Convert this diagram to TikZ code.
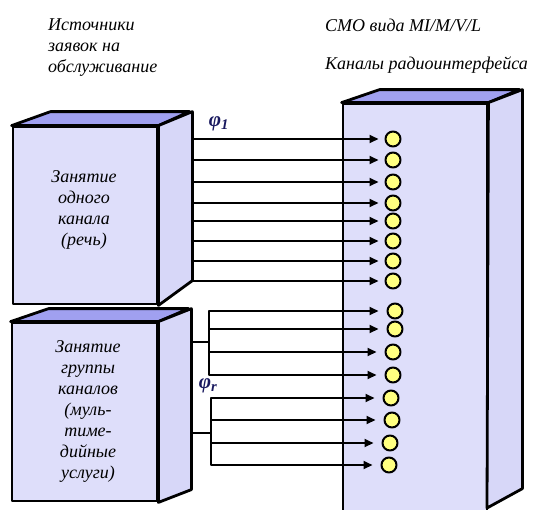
\documentclass[tikz,border=0pt]{standalone}
\usepackage{fontspec}
\setmainfont{Liberation Serif}
\usetikzlibrary{arrows.meta}

\definecolor{frontcol}{RGB}{222,222,250}
\definecolor{topcol}{RGB}{160,160,240}
\definecolor{sidecol}{RGB}{215,215,248}
\definecolor{dotcol}{RGB}{255,255,128}
\definecolor{phicol}{RGB}{25,25,95}

\begin{document}
\begin{tikzpicture}[x=1pt, y=-1pt, line join=round, >={Triangle[length=9pt,width=8pt]}]
  \tikzset{
    grani/.style={draw, line width=2.8pt, fill=frontcol, inner sep=0pt},
    verh/.style={draw, line width=2.8pt, fill=topcol},
    bok/.style={draw, line width=2.8pt, fill=sidecol},
    kanal/.style={circle, draw, line width=2pt, fill=dotcol, minimum size=15pt, inner sep=0pt},
    strelka/.style={->, line width=1.8pt, shorten >=6pt},
    vetka/.style={line width=1.8pt},
    zagolovok/.style={font=\itshape\fontsize{18}{21}\selectfont, align=left, anchor=north west, inner sep=0pt},
    podpis/.style={font=\itshape\fontsize{18}{21}\selectfont, align=center, inner sep=0pt},
    phi/.style={font=\bfseries\itshape\fontsize{21}{21}\selectfont, text=phicol, inner sep=0pt}
  }
  \useasboundingbox (0,0) rectangle (534,509);

  % заголовки
  \node[zagolovok] (ist) at (48,19) {Источники\\заявок на\\обслуживание};
  \node[zagolovok] (smo) at (325,19) {СМО вида MI/M/V/L};
  \node[zagolovok] (kan) at (325,56) {Каналы радиоинтерфейса};

  % источник 1
  \node[grani, minimum width=144pt, minimum height=177pt] (src1) at (85,215.5) {};
  \filldraw[verh] (src1.north west) -- ++(39,-14) -- ++(139,0) -- (src1.north east) -- cycle;
  \filldraw[bok] (src1.north east) -- ++(34,-14) -- ++(0,169) -- (src1.south east) -- cycle;
  \node[podpis] (t1) at (84,210) {Занятие\\одного\\канала\\(речь)};

  % источник 2
  \node[grani, minimum width=145pt, minimum height=178pt] (src2) at (84.5,412) {};
  \filldraw[verh] (src2.north west) -- ++(38,-13) -- ++(140,0) -- (src2.north east) -- cycle;
  \filldraw[bok] (src2.north east) -- ++(33,-13) -- ++(0,181) -- (src2.south east) -- cycle;
  \node[podpis] (t2) at (88,411) {Занятие\\группы\\каналов\\(муль-\\тиме-\\дийные\\услуги)};

  % СМО
  \node[grani, minimum width=144pt, minimum height=420pt] (smoBox) at (415,314) {};
  \filldraw[verh] (smoBox.north west) -- ++(38,-13) -- ++(140,0) -- (smoBox.north east) -- cycle;
  \filldraw[bok] (smoBox.north east) -- ++(34,-13) -- ++(0,399) -- (487,508) -- cycle;

  % одиночные каналы
  \foreach \y [count=\i] in {139,160,182,203,221,241,261,281} {
    \node[kanal] (k\i) at (393,\y) {};
    \coordinate (s\i) at (191,\y);
    \draw[strelka] (s\i) -- (k\i);
  }

  % группы каналов
  \coordinate (g1) at (190,342);
  \coordinate (v1) at (209,342);
  \coordinate (g2) at (190,433);
  \coordinate (v2) at (211,433);
  \draw[vetka] (g1) -- (v1);
  \draw[vetka] (g2) -- (v2);
  \foreach \x/\y [count=\i from 9] in {395/311,395/329,393/352,393/375} {
    \node[kanal] (k\i) at (\x,\y) {};
    \draw[strelka, shorten >=8pt] (v1) |- (k\i);
  }
  \foreach \x/\y [count=\i from 13] in {391/398,392/420,390/443,389/465} {
    \node[kanal] (k\i) at (\x,\y) {};
    \draw[strelka, shorten >=8pt] (v2) |- (k\i);
  }

  % интенсивности
  \node[phi] (phi1) at (219,124) {φ\textsubscript{1}};
  \node[phi] (phir) at (208,386) {φ\textsubscript{r}};
\end{tikzpicture}
\end{document}
